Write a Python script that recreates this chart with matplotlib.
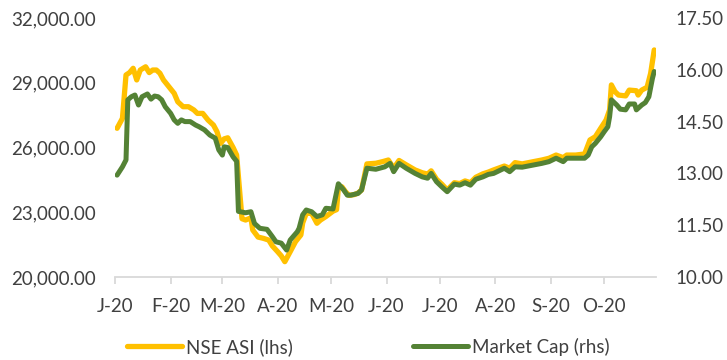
import numpy as np
import matplotlib.pyplot as plt
import matplotlib.ticker as mticker

plt.rcParams['font.family'] = ['Lato', 'DejaVu Sans']

# NSE All Share Index (left axis)
asi_dates = [
    '2020-01-02', '2020-01-05', '2020-01-07', '2020-01-09', '2020-01-11', '2020-01-13',
    '2020-01-15', '2020-01-18', '2020-01-20', '2020-01-22', '2020-01-24', '2020-01-26',
    '2020-01-28', '2020-01-31', '2020-02-03', '2020-02-05', '2020-02-08', '2020-02-11',
    '2020-02-14', '2020-02-16', '2020-02-19', '2020-02-22', '2020-02-25', '2020-02-27',
    '2020-02-29', '2020-03-02', '2020-03-04', '2020-03-07', '2020-03-09', '2020-03-10',
    '2020-03-12', '2020-03-14', '2020-03-17', '2020-03-18', '2020-03-21', '2020-03-24',
    '2020-03-27', '2020-03-29', '2020-04-01', '2020-04-03', '2020-04-05', '2020-04-08',
    '2020-04-11', '2020-04-14', '2020-04-15', '2020-04-17', '2020-04-20', '2020-04-23',
    '2020-04-25', '2020-04-28', '2020-05-02', '2020-05-04', '2020-05-05', '2020-05-07',
    '2020-05-09', '2020-05-11', '2020-05-14', '2020-05-16', '2020-05-18', '2020-05-21',
    '2020-05-26', '2020-05-30', '2020-06-02', '2020-06-05', '2020-06-08', '2020-06-12',
    '2020-06-17', '2020-06-21', '2020-06-24', '2020-06-26', '2020-06-29', '2020-07-02',
    '2020-07-05', '2020-07-09', '2020-07-12', '2020-07-15', '2020-07-18', '2020-07-21',
    '2020-07-25', '2020-07-28', '2020-07-31', '2020-08-06', '2020-08-09', '2020-08-12',
    '2020-08-16', '2020-08-22', '2020-08-27', '2020-08-31', '2020-09-04', '2020-09-08',
    '2020-09-10', '2020-09-15', '2020-09-20', '2020-09-23', '2020-09-26', '2020-09-29',
    '2020-10-02', '2020-10-04', '2020-10-05', '2020-10-07', '2020-10-09', '2020-10-13',
    '2020-10-15', '2020-10-19', '2020-10-20', '2020-10-22', '2020-10-25', '2020-10-27',
    '2020-10-29',
]
asi_values = [
    26890, 27350, 29360, 29470, 29670, 29130,
    29590, 29740, 29470, 29590, 29590, 29440,
    29130, 28820, 28510, 28120, 27890, 27890,
    27740, 27580, 27580, 27270, 27040, 26730,
    26190, 26400, 26450, 26000, 25650, 24650,
    22700, 22640, 22740, 22180, 21850, 21790,
    21710, 21440, 21170, 20980, 20710, 21170,
    21640, 21950, 22500, 22950, 22950, 22490,
    22640, 22800, 23050, 23120, 24150, 24180,
    23950, 23780, 23820, 23890, 24030, 25240,
    25270, 25350, 25420, 25040, 25400, 25200,
    24960, 24830, 24770, 24920, 24530, 24300,
    24030, 24370, 24330, 24450, 24370, 24620,
    24780, 24860, 24960, 25140, 25040, 25300,
    25240, 25340, 25420, 25500, 25650, 25530,
    25650, 25650, 25700, 26350, 26500, 26890,
    27270, 27740, 28900, 28590, 28430, 28390,
    28660, 28630, 28430, 28660, 28790, 29440,
    30520,
]

# Market capitalisation, N trillion (right axis)
mcap_dates = [
    '2020-01-02', '2020-01-05', '2020-01-07', '2020-01-08', '2020-01-10', '2020-01-12',
    '2020-01-14', '2020-01-16', '2020-01-19', '2020-01-21', '2020-01-23', '2020-01-25',
    '2020-01-27', '2020-01-29', '2020-02-01', '2020-02-03', '2020-02-05', '2020-02-07',
    '2020-02-09', '2020-02-12', '2020-02-15', '2020-02-17', '2020-02-20', '2020-02-23',
    '2020-02-26', '2020-02-28', '2020-03-01', '2020-03-02', '2020-03-04', '2020-03-07',
    '2020-03-09', '2020-03-10', '2020-03-11', '2020-03-14', '2020-03-17', '2020-03-19',
    '2020-03-22', '2020-03-26', '2020-03-29', '2020-03-31', '2020-04-03', '2020-04-06',
    '2020-04-08', '2020-04-12', '2020-04-13', '2020-04-15', '2020-04-17', '2020-04-20',
    '2020-04-23', '2020-04-26', '2020-04-28', '2020-05-02', '2020-05-05', '2020-05-08',
    '2020-05-10', '2020-05-12', '2020-05-16', '2020-05-18', '2020-05-21', '2020-05-26',
    '2020-05-31', '2020-06-03', '2020-06-05', '2020-06-08', '2020-06-12', '2020-06-17',
    '2020-06-21', '2020-06-24', '2020-06-26', '2020-06-29', '2020-07-02', '2020-07-05',
    '2020-07-09', '2020-07-12', '2020-07-15', '2020-07-18', '2020-07-21', '2020-07-25',
    '2020-07-28', '2020-07-31', '2020-08-06', '2020-08-09', '2020-08-12', '2020-08-16',
    '2020-08-22', '2020-08-27', '2020-08-31', '2020-09-04', '2020-09-08', '2020-09-10',
    '2020-09-15', '2020-09-20', '2020-09-22', '2020-09-24', '2020-09-26', '2020-09-29',
    '2020-10-01', '2020-10-03', '2020-10-04', '2020-10-05', '2020-10-08', '2020-10-10',
    '2020-10-13', '2020-10-15', '2020-10-18', '2020-10-19', '2020-10-22', '2020-10-24',
    '2020-10-26', '2020-10-28', '2020-10-29',
]
mcap_values = [
    12.95, 13.19, 13.39, 15.13, 15.22, 15.27,
    14.98, 15.22, 15.30, 15.15, 15.24, 15.22,
    15.13, 14.93, 14.74, 14.55, 14.45, 14.55,
    14.50, 14.50, 14.40, 14.35, 14.26, 14.11,
    14.02, 13.68, 13.53, 13.77, 13.75, 13.48,
    13.35, 11.90, 11.89, 11.86, 11.89, 11.55,
    11.41, 11.38, 11.17, 11.02, 10.98, 10.78,
    11.07, 11.31, 11.41, 11.80, 11.94, 11.89,
    11.75, 11.80, 11.99, 11.97, 12.70, 12.52,
    12.37, 12.37, 12.42, 12.52, 13.15, 13.12,
    13.19, 13.29, 13.05, 13.29, 13.15, 13.00,
    12.90, 12.86, 13.00, 12.76, 12.61, 12.47,
    12.69, 12.66, 12.73, 12.66, 12.83, 12.90,
    12.97, 13.00, 13.15, 13.05, 13.19, 13.18,
    13.24, 13.29, 13.34, 13.44, 13.34, 13.44,
    13.44, 13.44, 13.53, 13.77, 13.87, 14.06,
    14.21, 14.35, 14.64, 15.13, 14.98, 14.86,
    14.84, 15.01, 15.01, 14.84, 14.98, 15.05,
    15.22, 15.75, 15.95,
]

month_starts = ['2020-01-01', '2020-02-01', '2020-03-01', '2020-04-01', '2020-05-01',
                '2020-06-01', '2020-07-01', '2020-08-01', '2020-09-01', '2020-10-01']
month_labels = ['J-20', 'F-20', 'M-20', 'A-20', 'M-20', 'J-20', 'J-20', 'A-20', 'S-20', 'O-20']

yellow = '#FFC000'
green = '#548235'
txt = '#404040'
fs = 13.5

fig = plt.figure(figsize=(7.27, 3.60), dpi=100)
ax = fig.add_axes([115.3 / 727, 1 - 277 / 360, (656 - 115.3) / 727, (277 - 18) / 360])
ax2 = ax.twinx()

d_asi = np.array(asi_dates, dtype='datetime64[D]')
d_mcap = np.array(mcap_dates, dtype='datetime64[D]')

# index first, market cap drawn over it
l1, = ax.plot(d_asi, asi_values, color=yellow, lw=3.8, solid_capstyle='round',
              solid_joinstyle='round', label='NSE ASI (lhs)')
l2, = ax2.plot(d_mcap, mcap_values, color=green, lw=3.6, solid_capstyle='round',
               solid_joinstyle='round', label='Market Cap (rhs)')

ax.set_ylim(20000, 32000)
ax.set_yticks([20000, 23000, 26000, 29000, 32000])
ax.yaxis.set_major_formatter(mticker.StrMethodFormatter('{x:,.2f}'))
ax2.set_ylim(10, 17.5)
ax2.set_yticks([10, 11.5, 13, 14.5, 16, 17.5])
ax2.yaxis.set_major_formatter(mticker.StrMethodFormatter('{x:.2f}'))

ax.set_xlim(np.datetime64('2020-01-01'), np.datetime64('2020-10-30'))
ax.set_xticks(np.array(month_starts, dtype='datetime64[D]'))
ax.set_xticklabels(month_labels)

for a in (ax, ax2):
    for s in ('top', 'left', 'right', 'bottom'):
        a.spines[s].set_visible(False)
ax.spines['bottom'].set_visible(True)
ax.spines['bottom'].set_color('#D9D9D9')
ax.spines['bottom'].set_linewidth(1.3)

ax.tick_params(axis='x', length=5, width=1.3, color='#D9D9D9', labelcolor=txt,
               labelsize=fs, pad=10)
ax.tick_params(axis='y', length=0, labelcolor=txt, labelsize=fs, pad=14)
ax2.tick_params(axis='y', length=0, labelcolor=txt, labelsize=fs, pad=14)

fig.legend(handles=[l1, l2], loc='center', bbox_to_anchor=(0.507, 1 - 347 / 360),
           ncol=2, frameon=False, fontsize=fs, labelcolor=txt,
           handlelength=2.9, handletextpad=0.25, columnspacing=6.4)

fig.savefig('out.png', dpi=100)
